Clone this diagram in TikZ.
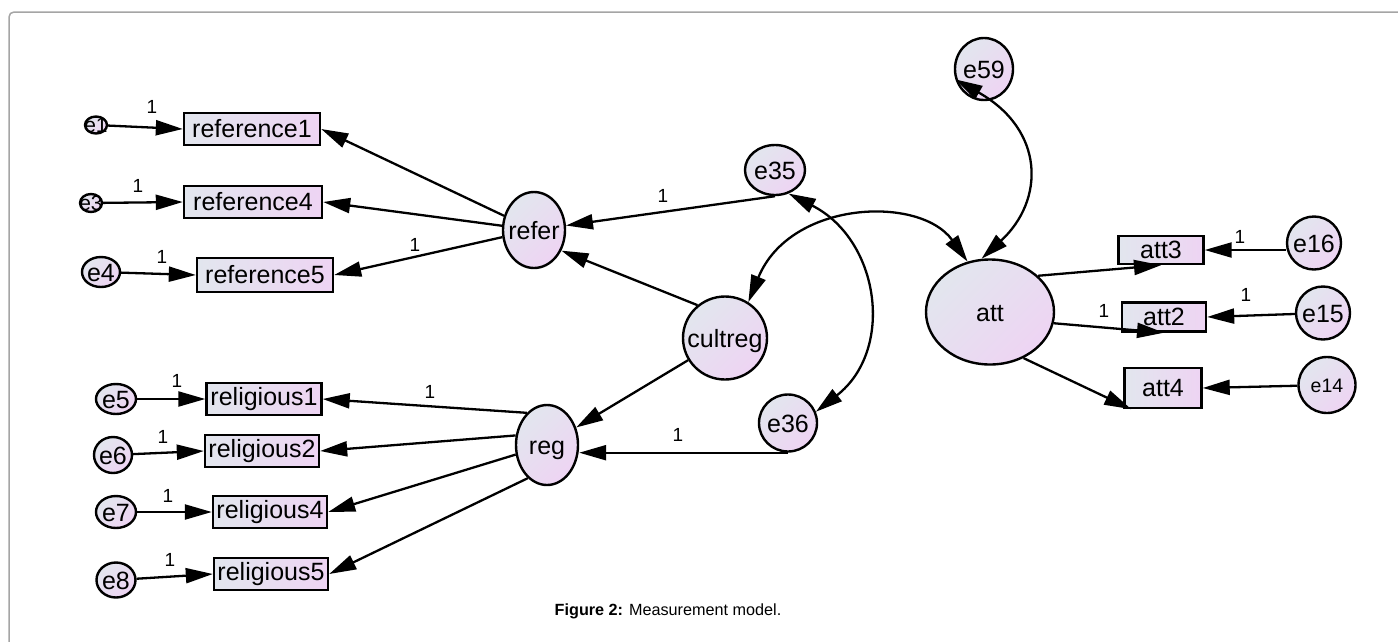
\documentclass[tikz,border=0pt]{standalone}
\usepackage{fontspec}
\setmainfont{Liberation Sans}
\usetikzlibrary{arrows.meta,shapes.geometric,calc}
\definecolor{cA}{RGB}{226,230,238}
\definecolor{cB}{RGB}{238,212,243}
\definecolor{frm}{RGB}{165,165,165}
\newcommand{\ctext}[1]{\smash{\makebox[0pt]{\raisebox{-0.36em}{#1}}}}
\begin{document}
\begin{tikzpicture}[x=1pt,y=-1pt,
  obs/.style={rectangle, draw, line width=2.4pt, left color=cA, right color=cB, inner sep=0pt, font=\fontsize{25}{27}\selectfont},
  lat/.style={ellipse, draw, line width=2.4pt, top color=cA, bottom color=cB, shading angle=45, inner sep=0pt, font=\fontsize{25}{27}\selectfont},
  lbl/.style={font=\fontsize{19}{21}\selectfont, inner sep=0pt},
  arr/.style={line width=2.3pt, -{Triangle[length=27pt,width=15pt]}},
  dbl/.style={line width=2.3pt, {Triangle[length=27pt,width=15pt]}-{Triangle[length=27pt,width=15pt]}},
]
\useasboundingbox (0,0) rectangle (1398,641);
\draw[frm, line width=1.5pt, rounded corners=5pt] (9,645) -- (9,12) -- (1402,12);

% observed
\node[obs,minimum width=136pt,minimum height=32pt] (ref1) at (252,129) {reference1};
\node[obs,minimum width=138pt,minimum height=32pt] (ref4) at (253,202) {reference4};
\node[obs,minimum width=136pt,minimum height=34pt] (ref5) at (265,275) {reference5};
\node[obs,minimum width=115pt,minimum height=32pt] (rel1) at (264,399) {religious1};
\node[obs,minimum width=114pt,minimum height=32pt] (rel2) at (262,451) {religious2};
\node[obs,minimum width=114pt,minimum height=32pt] (rel4) at (270,512) {religious4};
\node[obs,minimum width=114pt,minimum height=32pt] (rel5) at (271,574) {religious5};
\node[obs,minimum width=85pt,minimum height=28pt] (att3) at (1161,250) {att3};
\node[obs,minimum width=84pt,minimum height=29pt] (att2) at (1164,317) {att2};
\node[obs,minimum width=77pt,minimum height=40pt] (att4) at (1163,388) {att4};

% latent / errors
\node[lat,minimum width=22pt,minimum height=17pt,font=\fontsize{21}{23}\selectfont] (e1) at (96,125) {\ctext{e1}};
\node[lat,minimum width=22pt,minimum height=18pt,font=\fontsize{21}{23}\selectfont] (e3) at (91,203) {\ctext{e3}};
\node[lat,minimum width=38pt,minimum height=30pt] (e4) at (101,272) {\ctext{e4}};
\node[lat,minimum width=40pt,minimum height=30pt] (e5) at (116,399) {\ctext{e5}};
\node[lat,minimum width=38pt,minimum height=36pt] (e6) at (113,455) {\ctext{e6}};
\node[lat,minimum width=40pt,minimum height=32pt] (e7) at (116,512) {\ctext{e7}};
\node[lat,minimum width=39pt,minimum height=35pt] (e8) at (116,580) {\ctext{e8}};
\node[lat,minimum width=62pt,minimum height=76pt] (refer) at (534,230) {\ctext{refer}};
\node[lat,minimum width=60pt,minimum height=50pt] (e35) at (775,170) {\ctext{e35}};
\node[lat,minimum width=84pt,minimum height=83pt] (cultreg) at (725,338) {\ctext{cultreg}};
\node[lat,minimum width=62pt,minimum height=80pt] (reg) at (547,445) {\ctext{reg}};
\node[lat,minimum width=58pt,minimum height=57pt] (e36) at (788,423) {\ctext{e36}};
\node[lat,minimum width=58pt,minimum height=62pt] (e59) at (984,69) {\ctext{e59}};
\node[lat,minimum width=128pt,minimum height=105pt] (att) at (990,312) {\ctext{att}};
\node[lat,minimum width=54pt,minimum height=53pt] (e16) at (1314,243) {\ctext{e16}};
\node[lat,minimum width=54pt,minimum height=53pt] (e15) at (1323,313) {\ctext{e15}};
\node[lat,minimum width=57pt,minimum height=56pt,font=\fontsize{19.5}{21}\selectfont] (e14) at (1327,385) {\ctext{e14}};

% connectors
\draw[arr] (e1) -- (ref1.west);
\draw[arr] (e3) -- (ref4.west);
\draw[arr] (e4) -- (ref5.west);
\draw[arr] (e5) -- (rel1.west);
\draw[arr] (e6) -- (rel2.west);
\draw[arr] (e7) -- (rel4.west);
\draw[arr] (e8) -- (rel5.west);
\draw[arr] (refer) -- (ref1.east);
\draw[arr] (refer) -- (ref4.east);
\draw[arr] (refer) -- (ref5.east);
\draw[arr] (e35.south) -- (refer);
\draw[arr] (cultreg.130) -- (refer.-37);
\draw[arr] (cultreg) -- (reg);
\draw[arr] (e36.south) -- (e36.south -| reg.east);
\draw[arr] (reg.122) -- (rel1.east);
\draw[arr] (reg.163) -- (rel2.east);
\draw[arr] (reg.197) -- (rel4.east);
\draw[arr] (reg.240) -- (rel5.east);
\draw[arr] (att.37) -- (att3.south);
\draw[arr] (att.-10) -- (att2.south);
\draw[arr] (att.-54) -- ($(att4.south west)+(8,0)$);
\draw[arr] (e16.west |- att3.east) -- (att3.east);
\draw[arr] (e15) -- (att2.east);
\draw[arr] (e14) -- (att4.east);

\draw[dbl] (e35.-60) .. controls (880,240) and (895,350) .. (e36.22);
\draw[dbl] (cultreg.57) .. controls (790,200) and (920,195) .. (att.114);
\draw[dbl] (e59.200) .. controls (1045,130) and (1045,200) .. (att.99);

% labels
\node[lbl] (l1) at (152,107) {1};
\node[lbl] (l2) at (138,186) {1};
\node[lbl] (l3) at (162,257) {1};
\node[lbl] (l4) at (415,245) {1};
\node[lbl] (l5) at (663,196) {1};
\node[lbl] (l6) at (430,392) {1};
\node[lbl] (l7) at (177,381) {1};
\node[lbl] (l8) at (163,437) {1};
\node[lbl] (l9) at (168,496) {1};
\node[lbl] (l10) at (170,560) {1};
\node[lbl] (l11) at (678,435) {1};
\node[lbl] (l12) at (1240,237) {1};
\node[lbl] (l13) at (1246,295) {1};
\node[lbl] (l14) at (1104,311) {1};

\node[font=\fontsize{16.2}{18}\selectfont] (cap) at (668,611) {\textbf{Figure 2:} Measurement model.};
\end{tikzpicture}
\end{document}
